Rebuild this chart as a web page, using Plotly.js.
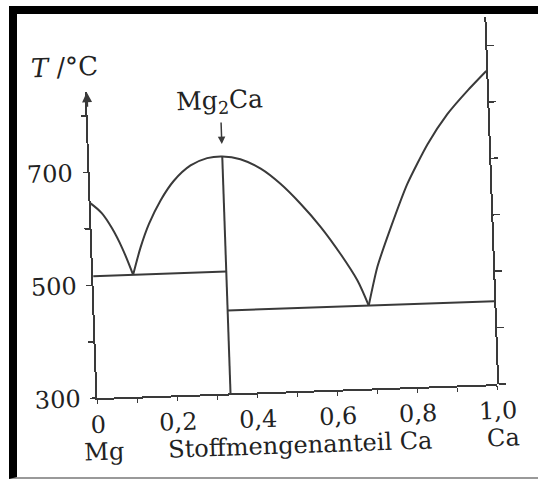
<!DOCTYPE html>
<html><head><meta charset="utf-8">
<script src="https://cdn.plot.ly/plotly-3.0.1.min.js"></script>
<style>
html,body{margin:0;padding:0;background:#fff;}
#wrap{position:relative;width:538px;height:480px;overflow:hidden;background:#fff;}
#chart{position:absolute;left:0;top:0;width:538px;height:480px;transform:rotate(-2deg);transform-origin:269px 240px;}
#frame{position:absolute;left:9px;top:6px;right:0;bottom:1px;border-left:8px solid #000;border-top:8px solid #000;border-bottom:2px solid #999;pointer-events:none;}
</style></head><body>
<div id="wrap"><div id="chart"></div><div id="frame"></div></div>
<script>
// ---- data (mole fraction Ca, temperature in °C) ----
const xMgLiquidus = [0, 0.027, 0.051, 0.075, 0.10];
const tMgLiquidus = [645, 627, 600, 564, 516];
const xMg2CaLiquidus = [0.10, 0.121, 0.144, 0.175, 0.21, 0.253, 0.295, 0.333, 0.378, 0.428, 0.476, 0.525, 0.573, 0.62, 0.66, 0.686];
const tMg2CaLiquidus = [516, 564, 605, 646, 680, 706, 718, 720, 714, 696, 668, 631, 589, 540, 492, 447];
const xCaLiquidus = [0.686, 0.711, 0.748, 0.793, 0.847, 0.899, 0.951, 1.0];
const tCaLiquidus = [447, 515, 584, 660, 729, 781, 821, 855];
const xEutectic1 = [0, 0.333];
const tEutectic1 = [516, 516];
const xEutectic2 = [0.333, 1.0];
const tEutectic2 = [447, 447];
const xCompound = [0.333, 0.333];
const tCompound = [300, 720];
const xTickVals = [0, 0.2, 0.4, 0.6, 0.8, 1.0];
const xTickText = ['0', '0,2', '0,4', '0,6', '0,8', '1,0'];
const xMinorTicks = [0.1, 0.3, 0.5, 0.7, 0.9];
const yTickVals = [300, 500, 700];
const yTickText = ['300', '500', '700'];
const yMinorTicks = [400, 600, 800];
const yRightTicks = [300, 400, 500, 600, 700, 800, 900];
const leftAxisTop = 842, rightAxisTop = 950, axisBottom = 300;

const lineCol = '#3a3a3a';
const txtCol = '#222';
const fam = 'DejaVu Serif, serif';

function curve(x, y, yaxis, sm) {
  return {x: x, y: y, yaxis: yaxis || 'y', type: 'scatter', mode: 'lines',
    line: {color: lineCol, width: 2, shape: sm ? 'spline' : 'linear', smoothing: sm || 0},
    cliponaxis: false, hoverinfo: 'skip'};
}
const data = [
  curve(xMgLiquidus, tMgLiquidus, 'y', 1),
  curve(xMg2CaLiquidus, tMg2CaLiquidus, 'y', 0.8),
  curve(xCaLiquidus, tCaLiquidus, 'y2', 0.6),
  curve(xEutectic1, tEutectic1),
  curve(xEutectic2, tEutectic2),
  curve(xCompound, tCompound)
];

const tickCommon = {ticks: 'outside', tickcolor: lineCol, tickwidth: 1.5, showgrid: false, zeroline: false, fixedrange: true};
const layout = {
  width: 538, height: 480,
  margin: {l: 92, r: 46, t: 25, b: 88, pad: 0},
  paper_bgcolor: 'rgba(0,0,0,0)', plot_bgcolor: 'rgba(0,0,0,0)',
  showlegend: false,
  font: {family: fam, size: 24, color: txtCol},
  xaxis: Object.assign({}, tickCommon, {
    range: [0, 1], showline: true, linecolor: lineCol, linewidth: 2, ticklen: 4,
    tickvals: xTickVals, ticktext: xTickText, ticklabelstandoff: 0,
    tickfont: {family: fam, size: 24, color: txtCol},
    minor: {tickvals: xMinorTicks, ticks: 'outside', ticklen: 4, tickwidth: 1.5, tickcolor: lineCol, showgrid: false}
  }),
  yaxis: Object.assign({}, tickCommon, {
    domain: [0, (leftAxisTop - axisBottom) / (rightAxisTop - axisBottom)],
    range: [axisBottom, leftAxisTop], showline: true, linecolor: lineCol, linewidth: 2, ticklen: 5,
    tickvals: yTickVals, ticktext: yTickText, ticklabelstandoff: 5,
    tickfont: {family: fam, size: 24, color: txtCol},
    minor: {tickvals: yMinorTicks, ticks: 'outside', ticklen: 5, tickwidth: 1.5, tickcolor: lineCol, showgrid: false}
  }),
  yaxis2: Object.assign({}, tickCommon, {
    domain: [0, 1], anchor: 'x', side: 'right',
    range: [axisBottom, rightAxisTop], showline: true, linecolor: lineCol, linewidth: 2, ticklen: 7,
    tickvals: yRightTicks, showticklabels: false
  }),
  annotations: [
    {xref: 'paper', yref: 'paper', x: -0.055, y: 0.905, text: '<i>T</i> /°C', showarrow: false,
     xanchor: 'center', yanchor: 'middle', font: {family: fam, size: 26, color: txtCol}},
    {xref: 'paper', yref: 'paper', x: 0.332, y: 0.797, text: 'Mg<sub>2</sub>Ca', showarrow: false,
     xanchor: 'center', yanchor: 'middle', font: {family: fam, size: 25, color: txtCol}},
    {xref: 'x', yref: 'y', x: 0.333, y: 742, ax: 0, ay: -23, text: '', showarrow: true,
     arrowhead: 2, arrowsize: 1, arrowwidth: 1.5, arrowcolor: lineCol},
    {xref: 'x', yref: 'y', x: 0, y: leftAxisTop, ax: 0, ay: 16, text: '', showarrow: true,
     arrowhead: 2, arrowsize: 1, arrowwidth: 2, arrowcolor: lineCol},
    {xref: 'paper', yref: 'paper', x: 0.012, y: -0.148, text: 'Mg', showarrow: false,
     xanchor: 'center', yanchor: 'middle', font: {family: fam, size: 24, color: txtCol}},
    {xref: 'paper', yref: 'paper', x: 0.502, y: -0.148, text: 'Stoffmengenanteil Ca', showarrow: false,
     xanchor: 'center', yanchor: 'middle', font: {family: fam, size: 24, color: txtCol}},
    {xref: 'paper', yref: 'paper', x: 1.01, y: -0.148, text: 'Ca', showarrow: false,
     xanchor: 'center', yanchor: 'middle', font: {family: fam, size: 24, color: txtCol}}
  ]
};
Plotly.newPlot('chart', data, layout, {staticPlot: true, displayModeBar: false});
</script>
</body></html>
